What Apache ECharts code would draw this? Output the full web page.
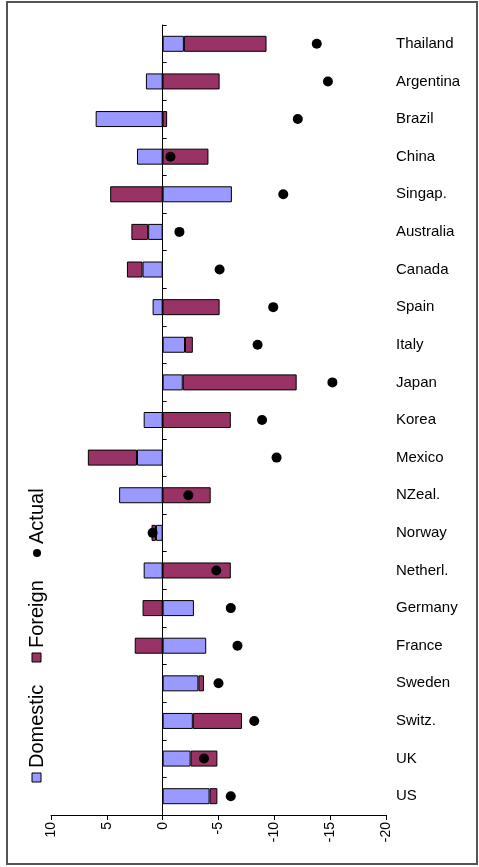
<!DOCTYPE html>
<html>
<head>
<meta charset="utf-8">
<script src="https://cdn.jsdelivr.net/npm/echarts@6/dist/echarts.min.js"></script>
<style>
html,body{margin:0;padding:0;background:#fff;}
#chart{width:479px;height:867px;}
</style>
</head>
<body>
<div id="chart"></div>
<script>
const categories = ["Thailand","Argentina","Brazil","China","Singap.","Australia","Canada","Spain","Italy","Japan","Korea","Mexico","NZeal.","Norway","Netherl.","Germany","France","Sweden","Switz.","UK","US"];
const domestic = [-1.9, 1.5, 6.0, 2.3, -6.2, 1.3, 1.8, 0.9, -2.0, -1.8, 1.7, 2.3, 3.9, 0.6, 1.7, -2.8, -3.9, -3.2, -2.7, -2.5, -4.2];
const foreign  = [-7.4, -5.1, -0.4, -4.1, 4.7, 1.5, 1.4, -5.1, -0.7, -10.2, -6.1, 4.4, -4.3, 0.4, -6.1, 1.8, 2.5, -0.5, -4.4, -2.4, -0.7];
const actual   = [-13.8, -14.8, -12.1, -0.7, -10.8, -1.5, -5.1, -9.9, -8.5, -15.2, -8.9, -10.2, -2.3, 0.9, -4.8, -6.1, -6.7, -5.0, -8.2, -3.7, -6.1];
const seriesNames = ["Domestic", "Foreign", "Actual"];
const valueMin = -20, valueMax = 10, valueStep = 5;

const FONT = "Liberation Sans, Arial, sans-serif";
const chart = echarts.init(document.getElementById('chart'), null, {renderer:'canvas'});
chart.setOption({
  animation: false,
  backgroundColor: '#ffffff',
  grid: {left: 51, right: 93, top: 25, bottom: 52, containLabel: false},
  xAxis: {
    type: 'value', inverse: true, min: valueMin, max: valueMax, interval: valueStep,
    position: 'bottom',
    splitLine: {show: false},
    axisLine: {show: true, onZero: false, lineStyle: {color: '#000', width: 1}},
    axisTick: {show: true, length: 5, lineStyle: {color: '#000'}},
    axisLabel: {rotate: 90, margin: 7, color: '#000', fontSize: 14, fontFamily: FONT}
  },
  yAxis: [{
    type: 'category', data: categories, inverse: true, position: 'left',
    axisLine: {show: true, onZero: true, lineStyle: {color: '#000', width: 1}},
    axisTick: {show: true, inside: true, length: 4, lineStyle: {color: '#000'}},
    axisLabel: {show: false},
    splitLine: {show: false}
  }, {
    type: 'category', data: categories, inverse: true, position: 'right',
    axisLine: {show: false, onZero: false},
    axisTick: {show: false},
    axisLabel: {show: true, margin: 10, align: 'left', verticalAlign: 'middle', lineHeight: 18, color: '#000', fontSize: 15, fontFamily: FONT, padding: [5, 0, 0, 0]},
    splitLine: {show: false}
  }],
  series: [{
    name: seriesNames[0], type: 'bar', stack: 'total', yAxisIndex: 0, barWidth: 16,
    data: domestic,
    itemStyle: {color: '#9999FF', borderColor: '#000', borderWidth: 1}
  }, {
    name: seriesNames[1], type: 'bar', stack: 'total', yAxisIndex: 0, barWidth: 16,
    data: foreign,
    itemStyle: {color: '#993366', borderColor: '#000', borderWidth: 1}
  }, {
    name: seriesNames[2], type: 'scatter', yAxisIndex: 0, z: 5,
    data: actual, symbol: 'circle', symbolSize: 10,
    itemStyle: {color: '#000', opacity: 1}
  }],
  graphic: [
    {type: 'rect', shape: {x: 7, y: 2, width: 470, height: 862}, style: {fill: 'none', stroke: '#555', lineWidth: 2}, silent: true},
    {type: 'rect', shape: {x: 32, y: 773, width: 9, height: 9}, style: {fill: '#9999FF', stroke: '#000', lineWidth: 1}},
    {type: 'text', x: 37, y: 768, rotation: Math.PI / 2, style: {text: seriesNames[0], fill: '#000', font: '20px ' + FONT, align: 'left', verticalAlign: 'middle'}},
    {type: 'rect', shape: {x: 32, y: 653, width: 9, height: 9}, style: {fill: '#993366', stroke: '#000', lineWidth: 1}},
    {type: 'text', x: 37, y: 648, rotation: Math.PI / 2, style: {text: seriesNames[1], fill: '#000', font: '20px ' + FONT, align: 'left', verticalAlign: 'middle'}},
    {type: 'circle', shape: {cx: 37, cy: 553, r: 4}, style: {fill: '#000'}},
    {type: 'text', x: 37, y: 544, rotation: Math.PI / 2, style: {text: seriesNames[2], fill: '#000', font: '20px ' + FONT, align: 'left', verticalAlign: 'middle'}}
  ]
});
</script>
</body>
</html>
